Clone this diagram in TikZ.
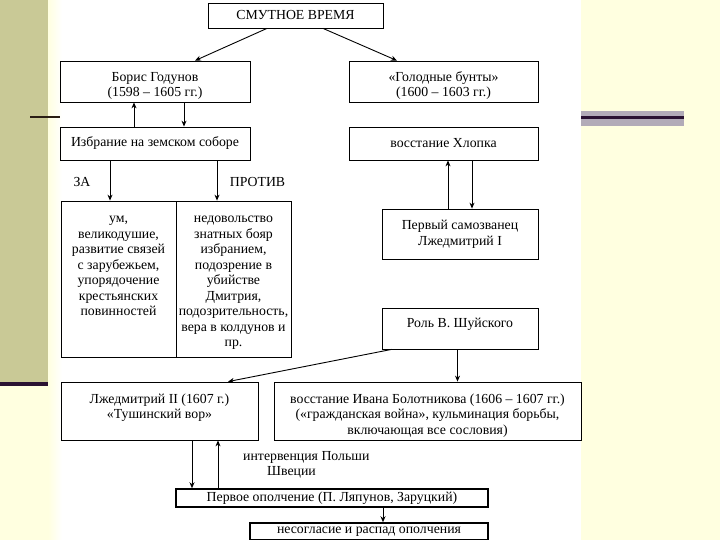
\documentclass[tikz,border=0pt]{standalone}
\usepackage{fontspec}
\setmainfont{Liberation Serif}
\usetikzlibrary{arrows.meta}
\definecolor{stripolive}{HTML}{C9C996}
\definecolor{stripyellow}{HTML}{FFFFE0}
\definecolor{darkplum}{HTML}{2A1232}
\definecolor{darkbrown}{HTML}{2A1E14}
\definecolor{barlilac}{HTML}{B2ABB8}
\newcommand{\dn}[1]{\rule{0pt}{#1}}

\begin{document}
\begin{tikzpicture}[x=1pt,y=-1pt,
    every node/.style={font=\fontsize{13.8}{15.5}\selectfont},
    box/.style={draw, line width=0.8pt, inner sep=1pt, align=center},
    heavybox/.style={draw, line width=1.5pt, inner sep=0pt, align=center},
    arr/.style={line width=0.9pt, -{Stealth[length=6pt,width=5pt]}}]
            \useasboundingbox (0,0) rectangle (720,540);
            \fill[stripyellow] (0,0) rectangle (720,540);
            \fill[white] (60,0) rectangle (581,540);
            \shade[left color=stripyellow, right color=white] (48,0) rectangle (62,540);
            \fill[stripolive] (0,0) rectangle (48,382);
            \fill[darkplum] (0,382) rectangle (48,385.5);
            \fill[darkbrown] (30,116.5) rectangle (60,118.5);
            \fill[barlilac] (581,111) rectangle (684,126);
            \fill[darkplum] (581,116.5) rectangle (684,119);

            \node (smuta) at (295.5,15.5) [box, minimum width=175pt, minimum height=25pt] {СМУТНОЕ ВРЕМЯ};

            \node (boris) at (155,81.5) [box, minimum width=190pt, minimum height=41pt] {\dn{18pt}Борис Годунов\\(1598 – 1605 гг.)};
            \node (golod) at (443.5,81.5) [box, minimum width=189pt, minimum height=41pt] {\dn{18pt}«Голодные бунты»\\(1600 – 1603 гг.)};

            \node (izbr) at (155,143.5) [box, minimum width=190pt, minimum height=33pt] {Избрание на земском соборе};
            \node (khlop) at (443.5,143.5) [box, minimum width=189pt, minimum height=33pt] {восстание Хлопка};

            \node (za_lbl) at (82,182) {ЗА};
            \node (protiv_lbl) at (257.5,182) {ПРОТИВ};

            \node (za) at (118.5,279) [box, inner sep=0pt, minimum width=115pt, minimum height=156pt] {\parbox[t][134pt][t]{115pt}{\centering\strut ум,\\великодушие,\\развитие связей\\с зарубежьем,\\упорядочение\\крестьянских\\повинностей}};
            \node (protiv) at (233.5,279) [box, inner sep=0pt, minimum width=115pt, minimum height=156pt] {\parbox[t][134pt][t]{115pt}{\centering\strut недовольство\\знатных бояр\\избранием,\\подозрение в\\убийстве\\Дмитрия,\\подозрительность,\\вера в колдунов и\\пр.}};

            \node (samoz) at (460,234) [box, minimum width=156pt, minimum height=50pt] {Первый самозванец\\Лжедмитрий I};
            \node (shuy) at (460,328.5) [box, minimum width=156pt, minimum height=41pt, text depth=12pt] {Роль В. Шуйского};

            \node (ld2) at (159.5,411) [box, minimum width=197pt, minimum height=58pt] {\dn{15.5pt}Лжедмитрий II (1607 г.)\\«Тушинский вор»\\\mbox{}};
            \node (bolot) at (427.5,411) [box, minimum width=307pt, minimum height=58pt] {\dn{18.5pt}восстание Ивана Болотникова (1606 – 1607 гг.)\\(«гражданская война», кульминация борьбы,\\включающая все сословия)};

            \node (interv) at (243,451) [anchor=north west, align=left, inner sep=0pt] {интервенция Польши\\\hspace*{24pt}Швеции};

            \node (opol) at (332,498) [heavybox, minimum width=312pt, minimum height=18pt] {Первое ополчение (П. Ляпунов, Заруцкий)};
            \node (nesog) at (369,531.5) [heavybox, minimum width=238pt, minimum height=17pt] {несогласие и распад ополчения};

            \draw[arr] ([xshift=-28.5pt]smuta.south) to ([xshift=40pt]boris.north);
            \draw[arr] ([xshift=27.5pt]smuta.south) to ([xshift=-46.5pt]golod.north);
            \draw[arr] ([xshift=-21pt]izbr.north) to ([xshift=-21pt]boris.south);
            \draw[arr] ([xshift=29pt]boris.south) to ([xshift=29pt]izbr.north);
            \draw[arr] ([xshift=-45pt]izbr.south) to ([xshift=-45pt]izbr.south |- za.north);
            \draw[arr] ([xshift=62pt]izbr.south) to ([xshift=62pt]izbr.south |- protiv.north);
            \draw[arr] ([xshift=-12pt]samoz.north) to ([xshift=-12pt]samoz.north |- khlop.south);
            \draw[arr] ([xshift=12pt]samoz.north |- khlop.south) to ([xshift=12pt]samoz.north);
            \draw[arr] ([xshift=10pt]shuy.south west) to ([xshift=68.5pt]ld2.north);
            \draw[arr] ([xshift=-2.5pt]shuy.south) to ([xshift=-2.5pt]shuy.south |- bolot.north);
            \draw[arr] ([xshift=32.5pt]ld2.south) to ([xshift=32.5pt]ld2.south |- opol.north);
            \draw[arr] ([xshift=58.5pt]ld2.south |- opol.north) to ([xshift=58.5pt]ld2.south);
            \draw[arr] ([xshift=51pt]opol.south) to ([xshift=51pt]opol.south |- nesog.north);
          \end{tikzpicture}
\end{document}
